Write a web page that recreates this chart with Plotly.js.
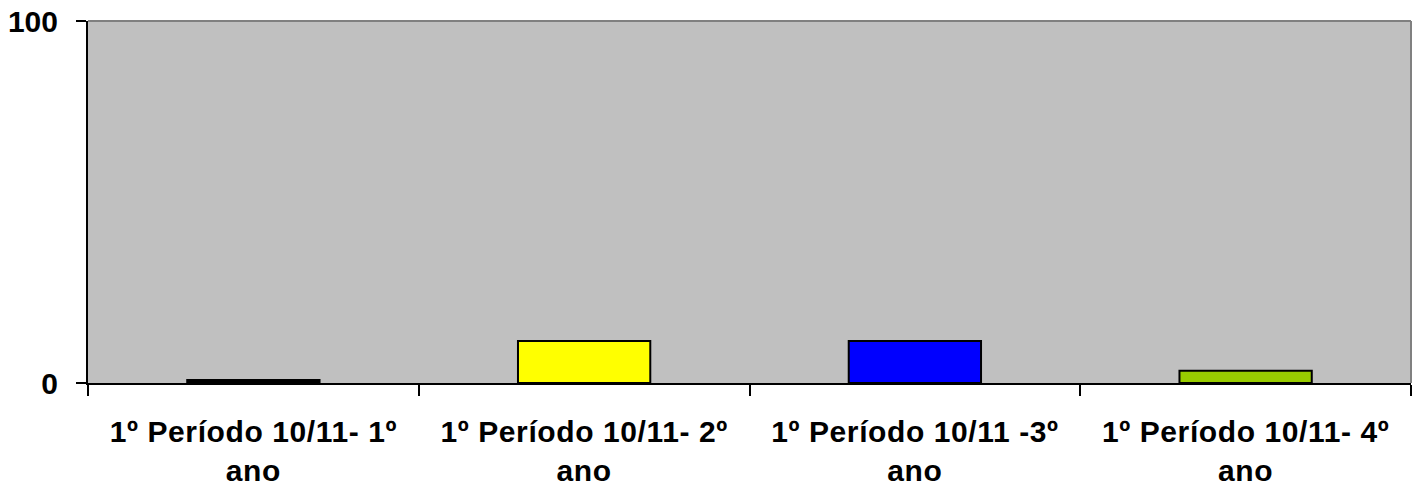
<!DOCTYPE html>
<html>
<head>
<meta charset="utf-8">
<script src="https://cdn.plot.ly/plotly-3.0.1.min.js"></script>
<style>
html,body{margin:0;padding:0;background:#fff;}
#chart{width:1422px;height:488px;}
.xtick text{letter-spacing:0.6px;}
</style>
</head>
<body>
<div id="chart"></div>
<script>
var categories = ["1º Período 10/11- 1º<br>ano", "1º Período 10/11- 2º<br>ano", "1º Período 10/11 -3º<br>ano", "1º Período 10/11- 4º<br>ano"];
var values = [0.8, 11.6, 11.6, 3.4];
var barColors = ["#000000", "#FFFF00", "#0000FF", "#99CC00"];
var yTickVals = [0, 100];
var yTickText = ["0", "100"];

var trace = {
  type: "bar",
  x: categories,
  y: values,
  width: 0.4,
  marker: {color: barColors, line: {color: "#000000", width: 2}},
  hoverinfo: "none"
};

var layout = {
  width: 1422,
  height: 488,
  margin: {l: 88, r: 11, t: 21, b: 105, pad: 0},
  paper_bgcolor: "#FFFFFF",
  plot_bgcolor: "#C0C0C0",
  showlegend: false,
  font: {family: "Liberation Sans, Arial, sans-serif", color: "#000000"},
  xaxis: {
    type: "category",
    showgrid: false,
    zeroline: false,
    showline: true,
    linecolor: "#000000",
    linewidth: 2,
    ticks: "outside",
    tickson: "boundaries",
    ticklen: 11,
    tickwidth: 2,
    tickcolor: "#000000",
    ticklabelstandoff: 21,
    tickfont: {family: "Liberation Sans, Arial, sans-serif", size: 30, color: "#000000", weight: "bold"},
    fixedrange: true
  },
  yaxis: {
    range: [0, 100],
    tickvals: yTickVals,
    ticktext: yTickText,
    showgrid: false,
    zeroline: false,
    showline: true,
    linecolor: "#000000",
    linewidth: 2,
    ticks: "outside",
    ticklen: 10,
    tickwidth: 2,
    tickcolor: "#000000",
    ticklabelstandoff: 12,
    tickfont: {family: "Liberation Sans, Arial, sans-serif", size: 30, color: "#000000", weight: "bold"},
    fixedrange: true
  },
  shapes: [
    {type: "line", xref: "paper", yref: "paper", x0: 0, x1: 1, y0: 1, y1: 1, line: {color: "#808080", width: 2}},
    {type: "line", xref: "paper", yref: "paper", x0: 1, x1: 1, y0: 0, y1: 1, line: {color: "#808080", width: 2}}
  ]
};

Plotly.newPlot("chart", [trace], layout, {displayModeBar: false, staticPlot: true});
</script>
</body>
</html>
